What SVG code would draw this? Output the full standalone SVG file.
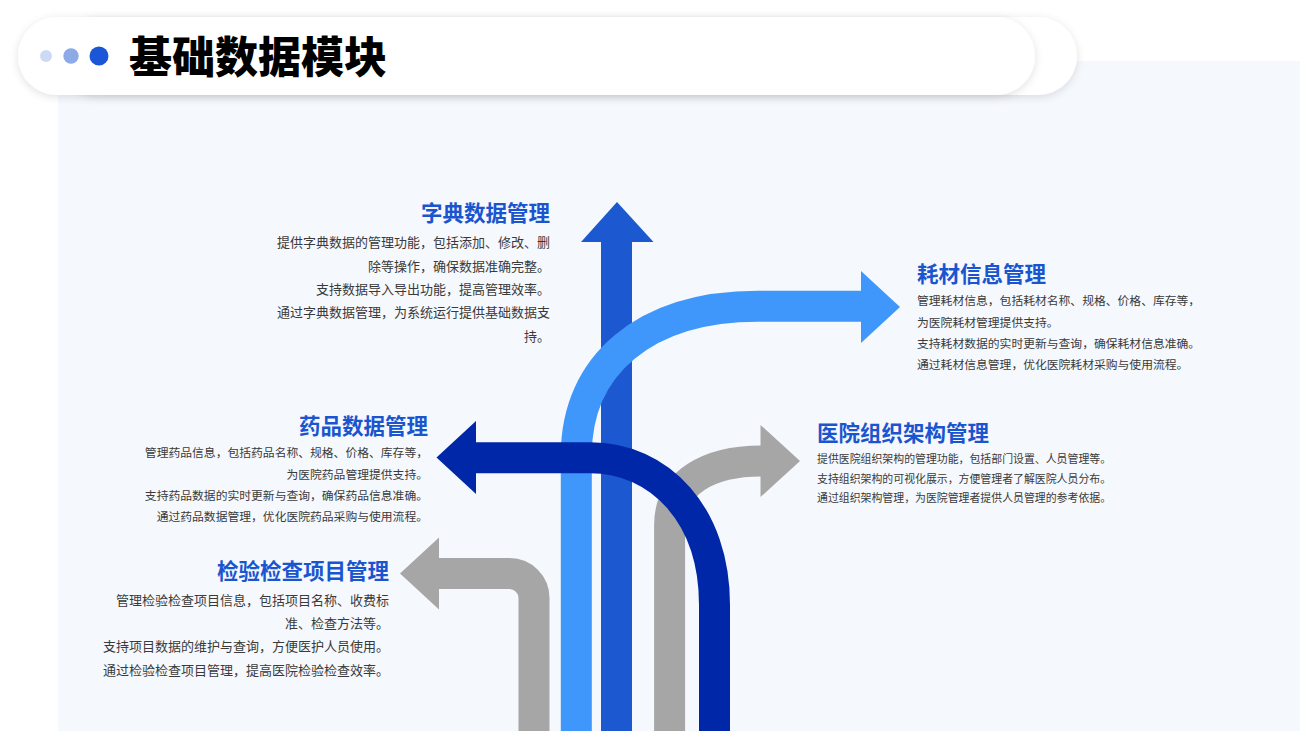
<svg xmlns="http://www.w3.org/2000/svg" width="1300" height="731" viewBox="0 0 1300 731">
  <defs>
    <filter id="shadow" x="-5%" y="-30%" width="110%" height="160%">
      <feDropShadow dx="0" dy="2" stdDeviation="4" flood-color="#000" flood-opacity="0.12"/>
    </filter>
  </defs>
  <style>
    .h { font-family: "Noto Sans CJK SC", "Noto Sans", sans-serif; font-weight: 700; font-size: 21.5px; fill: #1a55cf; }
    .b { font-family: "Noto Sans CJK SC", "Noto Sans", sans-serif; font-weight: 400; fill: #3a3a3a; }
    .shaft { fill: none; stroke-width: 31; stroke-linecap: butt; stroke-linejoin: round; }
  </style>
  <rect x="0" y="0" width="1300" height="731" fill="#ffffff"/>
  <rect x="58" y="61" width="1242" height="670" fill="#f5f8fd"/>

  <g id="header">
    <rect x="60" y="17" width="1017" height="78" rx="39" fill="#ffffff" filter="url(#shadow)"/>
    <rect x="18" y="17" width="1017" height="78" rx="39" fill="#ffffff" filter="url(#shadow)"/>
    <circle cx="46" cy="56" r="6" fill="#cddaf4"/>
    <circle cx="71" cy="56" r="7.7" fill="#8caae6"/>
    <circle cx="99" cy="56" r="9.5" fill="#1a56d6"/>
    <text x="129" y="73" font-family="'Noto Sans CJK SC', 'Noto Sans', sans-serif" font-weight="900" font-size="43" fill="#000000">基础数据模块</text>
  </g>

  <g id="arrows">
    <g id="arrow-up">
      <line class="shaft" x1="616.5" y1="731" x2="616.5" y2="241" stroke="#1c58d0"/>
      <polygon points="581,242 617,202 653.5,242" fill="#1c58d0"/>
    </g>
    <g id="arrow-right-top">
      <path class="shaft" d="M576.3,731 V455 C576.3,365 645,306.3 758,306.3 H862" stroke="#3f97fb"/>
      <polygon points="861,271 900,307 861,343" fill="#3f97fb"/>
    </g>
    <g id="arrow-right-grey">
      <path class="shaft" d="M669.6,731 V525 C669.6,482 710,461 761,461" stroke="#a6a6a6"/>
      <polygon points="760.5,425 800,461 760.5,497" fill="#a6a6a6"/>
    </g>
    <g id="arrow-left-grey">
      <path class="shaft" d="M534,731 V598 A24.5,24.5 0 0 0 509.5,573.5 H438" stroke="#a6a6a6"/>
      <polygon points="439,537.5 400,573.5 439,609.5" fill="#a6a6a6"/>
    </g>
    <g id="arrow-left-dark">
      <path class="shaft" d="M475,457.7 H590 C660,457.7 714.5,515 714.5,605 V731" stroke="#0027a8"/>
      <polygon points="476,421 436.5,457.5 476,494" fill="#0027a8"/>
    </g>
  </g>

  <g id="node-dict">
    <text class="h" x="550" y="221" text-anchor="end">字典数据管理</text>
    <g class="b" font-size="13" text-anchor="end">
      <text x="550" y="247">提供字典数据的管理功能，包括添加、修改、删</text>
      <text x="550" y="271">除等操作，确保数据准确完整。</text>
      <text x="550" y="294">支持数据导入导出功能，提高管理效率。</text>
      <text x="550" y="317">通过字典数据管理，为系统运行提供基础数据支</text>
      <text x="550" y="341">持。</text>
    </g>
  </g>

  <g id="node-consumables">
    <text class="h" x="917" y="282">耗材信息管理</text>
    <g class="b" font-size="11.8">
      <text x="917" y="305">管理耗材信息，包括耗材名称、规格、价格、库存等，</text>
      <text x="917" y="327">为医院耗材管理提供支持。</text>
      <text x="917" y="348">支持耗材数据的实时更新与查询，确保耗材信息准确。</text>
      <text x="917" y="369">通过耗材信息管理，优化医院耗材采购与使用流程。</text>
    </g>
  </g>

  <g id="node-drug">
    <text class="h" x="428" y="434" text-anchor="end">药品数据管理</text>
    <g class="b" font-size="11.8" text-anchor="end">
      <text x="428" y="457">管理药品信息，包括药品名称、规格、价格、库存等，</text>
      <text x="428" y="479">为医院药品管理提供支持。</text>
      <text x="428" y="500">支持药品数据的实时更新与查询，确保药品信息准确。</text>
      <text x="428" y="521">通过药品数据管理，优化医院药品采购与使用流程。</text>
    </g>
  </g>

  <g id="node-org">
    <text class="h" x="817" y="441">医院组织架构管理</text>
    <g class="b" font-size="10.9">
      <text x="817" y="463">提供医院组织架构的管理功能，包括部门设置、人员管理等。</text>
      <text x="817" y="483">支持组织架构的可视化展示，方便管理者了解医院人员分布。</text>
      <text x="817" y="502">通过组织架构管理，为医院管理者提供人员管理的参考依据。</text>
    </g>
  </g>

  <g id="node-exam">
    <text class="h" x="389" y="579" text-anchor="end">检验检查项目管理</text>
    <g class="b" font-size="13" text-anchor="end">
      <text x="389" y="604.5">管理检验检查项目信息，包括项目名称、收费标</text>
      <text x="389" y="628">准、检查方法等。</text>
      <text x="389" y="651">支持项目数据的维护与查询，方便医护人员使用。</text>
      <text x="389" y="675">通过检验检查项目管理，提高医院检验检查效率。</text>
    </g>
  </g>
</svg>
